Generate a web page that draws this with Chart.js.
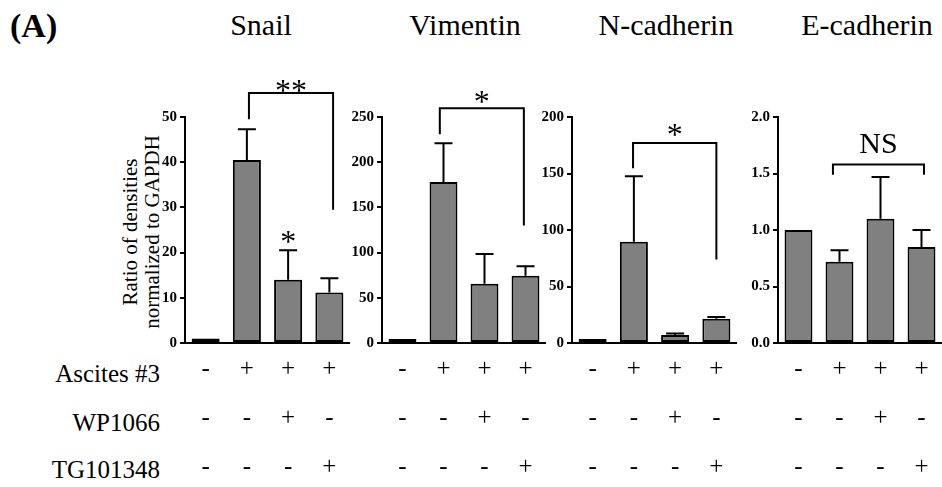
<!DOCTYPE html>
<html><head><meta charset="utf-8">
<script src="https://cdn.jsdelivr.net/npm/chart.js@4"></script>
<style>
html,body{margin:0;padding:0;background:#fff;}
#wrap{position:relative;width:942px;height:487px;overflow:hidden;font-family:"Liberation Serif","Times New Roman",serif;color:#000;}
#wrap canvas{position:absolute;top:0;}
.t{position:absolute;white-space:nowrap;}
</style></head><body>
<div id="wrap"></div>
<script>
// ---- data ----
const categories = ['Control', 'Ascites #3', 'Ascites #3 + WP1066', 'Ascites #3 + TG101348'];
const ascitesRow = ['-', '+', '+', '+'];
const wp1066Row = ['-', '-', '+', '-'];
const tg101348Row = ['-', '-', '-', '+'];
const rowNames = ['Ascites #3', 'WP1066', 'TG101348'];
const panelTitles = ['Snail', 'Vimentin', 'N-cadherin', 'E-cadherin'];

const snailValues = [1, 40.5, 14, 11.2];
const snailErrors = [0, 6.8, 6.5, 3.1];
const vimentinValues = [1, 178, 65.5, 74.5];
const vimentinErrors = [0, 43, 33, 10.5];
const ncadValues = [1, 89.5, 7, 21.5];
const ncadErrors = [0, 58, 1.5, 1.5];
const ecadValues = [1.0, 0.72, 1.10, 0.85];
const ecadErrors = [0, 0.10, 0.37, 0.15];

const yMaxes = [50, 250, 200, 2.0];
const ySteps = [10, 50, 50, 0.5];
const yDecimals = [0, 0, 0, 1];

// significance marks: [fromIndex, toIndex, barTop, leftLegEnd, rightLegEnd, label, labelCenter]
const snailMarks = [[1.05, 3.09, 55.3, 49.5, 29.5, '**', 56.7]];
const vimentinMarks = [[0.91, 2.96, 259.7, 231, 130, '*', 271.7]];
const ncadMarks = [[0.98, 3.0, 177, 154.6, 74, '*', 188.5]];
const ecadMarks = [[0.84, 3.06, 1.58, 1.49, 1.49, 'NS', 1.77]];
// single-bar stars: [index, labelCenter, label]
const snailStars = [[2, 23.5, '*']];
const noStars = [];

// ---- layout (positions only) ----
const axisX = [185, 382, 572, 778];
const axisRight = [350, 546, 737, 942];
const titleX = [261, 465, 666, 867];
const Y_LABEL_W = 45;
const FONT = '"Liberation Serif","Times New Roman",serif';

const panels = [
  {title: panelTitles[0], values: snailValues, errors: snailErrors, marks: snailMarks, stars: snailStars},
  {title: panelTitles[1], values: vimentinValues, errors: vimentinErrors, marks: vimentinMarks, stars: noStars},
  {title: panelTitles[2], values: ncadValues, errors: ncadErrors, marks: ncadMarks, stars: noStars},
  {title: panelTitles[3], values: ecadValues, errors: ecadErrors, marks: ecadMarks, stars: noStars}
];

const wrap = document.getElementById('wrap');
function addText(txt, css) {
  const d = document.createElement('div');
  d.className = 't';
  d.textContent = txt;
  Object.assign(d.style, css);
  wrap.appendChild(d);
  return d;
}

// panel label
addText('(A)', {left: '10px', top: '9px', fontSize: '34px', lineHeight: '34px', fontWeight: 'bold'});
// titles
panelTitles.forEach((t, i) => addText(t, {left: titleX[i] + 'px', top: '10px', fontSize: '30px', lineHeight: '30px', transform: 'translateX(-50%)'}));
// row names
const rowTops = [361, 410, 457];
rowNames.forEach((t, i) => addText(t, {right: (942 - 160) + 'px', top: rowTops[i] + 'px', fontSize: '25px', lineHeight: '25px'}));
// y axis title
const yt = document.createElement('div');
yt.className = 't';
yt.innerHTML = 'Ratio of densities<br>normalized to GAPDH';
Object.assign(yt.style, {left: (141 - 110) + 'px', top: (232 - 22) + 'px', width: '220px', height: '44px', fontSize: '21px', lineHeight: '22px', textAlign: 'center', transform: 'rotate(-90deg)'});
wrap.appendChild(yt);

const errorBarPlugin = {
  id: 'errorBars',
  afterDatasetsDraw(chart) {
    const ctx = chart.ctx;
    const ys = chart.scales.y;
    chart.data.datasets.forEach((ds, di) => {
      const meta = chart.getDatasetMeta(di);
      meta.data.forEach((el, i) => {
        const err = ds.errors[i];
        if (!err) return;
        const yTop = ys.getPixelForValue(ds.data[i] + err);
        ctx.save();
        ctx.strokeStyle = '#000';
        ctx.lineWidth = 2;
        ctx.beginPath();
        ctx.moveTo(el.x, el.y);
        ctx.lineTo(el.x, yTop);
        ctx.moveTo(el.x - 9, yTop);
        ctx.lineTo(el.x + 9, yTop);
        ctx.stroke();
        ctx.restore();
      });
    });
  }
};

function glyphOffset(label, size) {
  return label.indexOf('*') >= 0 ? 0.46 * size : 0.33 * size;
}

const sigPlugin = {
  id: 'sigMarks',
  afterDraw(chart) {
    const o = chart.options.plugins.sigMarks;
    const ctx = chart.ctx;
    const xs = chart.scales.x, ys = chart.scales.y;
    ctx.save();
    ctx.strokeStyle = '#000';
    ctx.fillStyle = '#000';
    ctx.lineWidth = 2;
    ctx.textAlign = 'center';
    ctx.textBaseline = 'alphabetic';
    o.marks.forEach(m => {
      const x1 = xs.getPixelForValue(m[0]);
      const x2 = xs.getPixelForValue(m[1]);
      const yb = ys.getPixelForValue(m[2]);
      ctx.beginPath();
      ctx.moveTo(x1, ys.getPixelForValue(m[3]));
      ctx.lineTo(x1, yb);
      ctx.lineTo(x2, yb);
      ctx.lineTo(x2, ys.getPixelForValue(m[4]));
      ctx.stroke();
      const size = m[5] === 'NS' ? 30 : 32;
      ctx.font = size + 'px ' + FONT;
      ctx.fillText(m[5], (x1 + x2) / 2, ys.getPixelForValue(m[6]) + glyphOffset(m[5], size));
    });
    o.stars.forEach(s => {
      const size = 32;
      ctx.font = size + 'px ' + FONT;
      ctx.fillText(s[2], xs.getPixelForValue(s[0]), ys.getPixelForValue(s[1]) + glyphOffset(s[2], size));
    });
    ctx.restore();
  }
};

const tableLabels = categories.map((c, i) => [ascitesRow[i], wp1066Row[i], tg101348Row[i]]);

panels.forEach((p, pi) => {
  const left = axisX[pi] - Y_LABEL_W;
  const w = axisRight[pi] - left;
  const cv = document.createElement('canvas');
  cv.width = w; cv.height = 487;
  cv.style.left = left + 'px';
  cv.style.width = w + 'px'; cv.style.height = '487px';
  wrap.appendChild(cv);
  new Chart(cv.getContext('2d'), {
    type: 'bar',
    data: {
      labels: tableLabels,
      datasets: [{
        label: p.title,
        data: p.values,
        errors: p.errors,
        backgroundColor: '#808080',
        borderColor: '#000',
        borderWidth: 2,
        borderSkipped: false,
        minBarLength: 4,
        barPercentage: 0.68,
        categoryPercentage: 1.0
      }]
    },
    options: {
      responsive: false,
      animation: false,
      devicePixelRatio: 1,
      layout: {padding: {top: 117, bottom: 0, left: 0, right: 0}},
      plugins: {
        legend: {display: false},
        tooltip: {enabled: false},
        sigMarks: {marks: p.marks, stars: p.stars}
      },
      scales: {
        x: {
          grid: {display: false, drawTicks: false},
          border: {display: true, color: '#000', width: 2},
          ticks: {
            color: '#000', padding: 2, maxRotation: 0, autoSkip: false,
            font: {family: FONT, size: 25, lineHeight: 1.96}
          },
          afterFit(s) { s.height = 144; }
        },
        y: {
          min: 0, max: yMaxes[pi],
          grid: {display: true, drawOnChartArea: false, drawTicks: true, tickLength: 5, color: '#000', lineWidth: 2},
          border: {display: true, color: '#000', width: 2},
          ticks: {
            stepSize: ySteps[pi], color: '#000', padding: 3,
            font: {family: FONT, size: 15, weight: 'bold'},
            callback: v => Number(v).toFixed(yDecimals[pi])
          },
          afterFit(s) { s.width = Y_LABEL_W; }
        }
      }
    },
    plugins: [errorBarPlugin, sigPlugin]
  });
});
</script>
</body></html>
